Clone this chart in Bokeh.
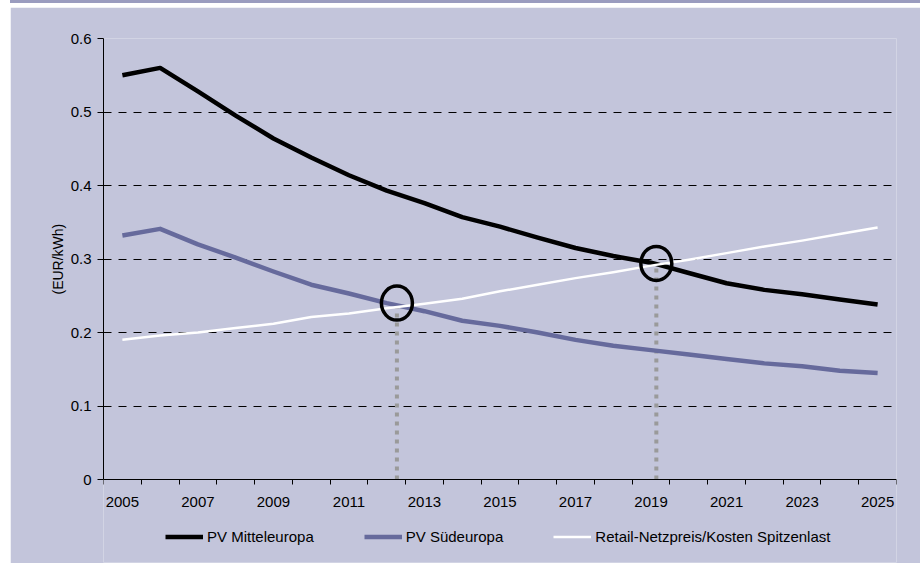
from bokeh.plotting import figure
from bokeh.models import FixedTicker, Legend, LegendItem, Range1d, Div, Spacer, Title
from bokeh.layouts import row, column
from bokeh.embed import file_html
from bokeh.resources import INLINE

# Stromgestehungskosten PV vs. Netzpreis (EUR/kWh)
years = list(range(2005, 2026))
pv_mitteleuropa = [0.550, 0.560, 0.528, 0.495, 0.464, 0.438, 0.414, 0.393, 0.376, 0.357,
                   0.344, 0.329, 0.315, 0.304, 0.295, 0.281, 0.267, 0.258, 0.252, 0.245, 0.238]
pv_suedeuropa = [0.332, 0.341, 0.320, 0.302, 0.283, 0.265, 0.253, 0.240, 0.229, 0.216,
                 0.209, 0.200, 0.190, 0.182, 0.176, 0.170, 0.164, 0.158, 0.154, 0.148, 0.145]
retail_netzpreis = [0.190, 0.196, 0.200, 0.206, 0.212, 0.221, 0.226, 0.233, 0.239, 0.246,
                    0.256, 0.265, 0.274, 0.282, 0.291, 0.299, 0.308, 0.317, 0.325, 0.334, 0.343]

# Schnittpunkte (Netzparität), markiert mit Kreis und Lotlinie
parity_years = [2012.27, 2019.14]
parity_values = [0.240, 0.294]

series_labels = ["PV Mitteleuropa", "PV Südeuropa", "Retail-Netzpreis/Kosten Spitzenlast"]
series_colors = ["black", "#666A9C", "white"]
series_widths = [4.5, 4.5, 2.5]
y_ticks = [0, 0.1, 0.2, 0.3, 0.4, 0.5, 0.6]
y_tick_labels = ["0", "0.1", "0.2", "0.3", "0.4", "0.5", "0.6"]
x_label_years = list(range(2005, 2026, 2))
y_axis_title = "(EUR/kWh)"

BG = "#C3C5DB"
BAND = "#9A9CBF"
FONT = "Liberation Sans"

# The frame reaches down to the bottom edge so that the x axis (pinned at y=0)
# and the legend underneath it both sit inside the drawing area.
PLOT_H = 441          # pixels between y=0 and y=0.6
BELOW_H = 83          # pixels of frame below y=0
y_bottom = -BELOW_H * 0.6 / PLOT_H

p = figure(width=910, height=556,
           x_range=Range1d(2004.5, 2025.5), y_range=Range1d(y_bottom, 0.6),
           output_backend="svg", toolbar_location=None,
           min_border_left=93, min_border_right=24, min_border_top=31, min_border_bottom=1,
           background_fill_color=BG, border_fill_color=BG)
p.outline_line_color = None

# x axis, pinned to y = 0
p.xaxis.fixed_location = 0
p.xaxis.ticker = FixedTicker(ticks=x_label_years, minor_ticks=[y - 0.5 for y in range(2005, 2027)])
p.xaxis.major_tick_out = 0
p.xaxis.major_tick_in = 0
p.xaxis.minor_tick_out = 5
p.xaxis.minor_tick_in = 0
p.xaxis.minor_tick_line_color = "black"
p.xaxis.axis_line_color = "black"
p.xaxis.major_label_standoff = 12
p.xaxis.major_label_text_font = FONT
p.xaxis.major_label_text_font_size = "15px"
p.xaxis.major_label_text_color = "black"

# y axis
p.yaxis.bounds = (0, 0.6)
p.yaxis.ticker = FixedTicker(ticks=y_ticks, minor_ticks=[])
p.yaxis.major_label_overrides = dict(zip(y_ticks, y_tick_labels))
p.yaxis.major_tick_out = 6
p.yaxis.major_tick_in = 0
p.yaxis.major_tick_line_color = "black"
p.yaxis.axis_line_color = "black"
p.yaxis.major_label_standoff = 6
p.yaxis.major_label_text_font = FONT
p.yaxis.major_label_text_font_size = "15px"
p.yaxis.major_label_text_color = "black"

# y axis title, centred on the 0..0.6 span rather than on the whole frame
ytitle = Title(text=y_axis_title, align="left", offset=268, standoff=4,
               text_font=FONT, text_font_size="14px", text_font_style="normal",
               text_color="black")
p.add_layout(ytitle, "left")

# grid
p.xgrid.grid_line_color = None
p.ygrid.ticker = FixedTicker(ticks=y_ticks[1:])
p.ygrid.grid_line_color = "black"
p.ygrid.grid_line_dash = "8 7"
p.ygrid.grid_line_width = 1

# parity drop lines
p.segment(x0=parity_years, y0=[0] * len(parity_years), x1=parity_years, y1=parity_values,
          line_color="#9A9A9A", line_width=4, line_dash="4 5")

renderers = []
for vals, col, w in zip([pv_mitteleuropa, pv_suedeuropa, retail_netzpreis], series_colors, series_widths):
    renderers.append(p.line(years, vals, line_color=col, line_width=w, line_join="round"))

p.ellipse(x=parity_years, y=parity_values, width=31, height=34,
          width_units="screen", height_units="screen",
          fill_color=None, line_color="black", line_width=3.5)

legend = Legend(items=[LegendItem(label=lab, renderers=[r]) for lab, r in zip(series_labels, renderers)],
                orientation="horizontal", location=(62, 17),
                glyph_width=38, glyph_height=15, label_standoff=4, spacing=50,
                padding=0, margin=0, border_line_color=None, background_fill_alpha=0,
                label_text_font=FONT, label_text_font_size="15px", label_text_color="black")
p.add_layout(legend)

band = Div(text="", width=910, height=3, margin=0, styles={"background-color": BAND})
gap = Spacer(width=910, height=4, margin=0)
left = Spacer(width=10, height=563, margin=0)
layout = row(left, column(band, gap, p, spacing=0, margin=0), spacing=0, margin=0)

open("out.html", "w").write(file_html(layout, INLINE))
